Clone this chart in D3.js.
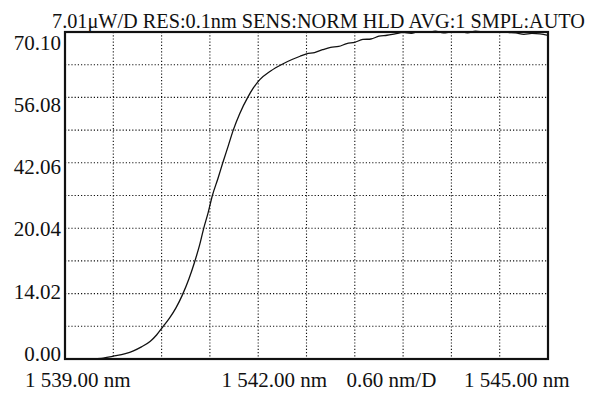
<!DOCTYPE html>
<html>
<head>
<meta charset="UTF-8">
<title>OSA trace</title>
<script src="https://d3js.org/d3.v7.min.js"></script>
<style>
	body { margin: 0; background: #fff; }
	text { font-family: "Liberation Serif", "Times New Roman", serif; fill: #111; }
	.grid line { stroke: #111; stroke-width: 1.1; stroke-dasharray: 1.2,2; }
	.trace { fill: none; stroke: #111; stroke-width: 1.3; }
</style>
</head>
<body>
<script>
// ===== data =====
var titleText = "7.01\u03bcW/D RES:0.1nm SENS:NORM HLD AVG:1 SMPL:AUTO";

var wavelength = [1539.33, 1539.45, 1539.60, 1539.75, 1539.85, 1539.95, 1540.06, 1540.14, 1540.22, 1540.30,
	1540.38, 1540.46, 1540.54, 1540.61, 1540.67, 1540.72, 1540.78, 1540.83, 1540.90, 1540.96,
	1541.03, 1541.09, 1541.17, 1541.27, 1541.34, 1541.42, 1541.55, 1541.71, 1541.82, 1541.92,
	1542.00, 1542.10, 1542.20, 1542.30, 1542.40, 1542.50, 1542.60, 1542.70, 1542.80, 1542.90,
	1543.00, 1543.10, 1543.20, 1543.30, 1543.40, 1543.50, 1543.60, 1543.70, 1543.80, 1543.90,
	1544.00, 1544.10, 1544.20, 1544.30, 1544.40, 1544.50, 1544.60, 1544.70, 1544.80, 1544.90, 1545.00];
var power = [0.00, 0.15, 0.60, 1.15, 1.75, 2.60, 3.80, 5.20, 7.00, 8.80,
	11.00, 13.80, 17.20, 20.80, 24.30, 27.80, 31.50, 35.00, 38.70, 42.06,
	45.80, 49.07, 52.60, 56.08, 58.10, 59.90, 61.70, 63.30, 64.20, 64.90,
	65.40, 65.70, 66.30, 66.80, 67.00, 67.60, 67.90, 68.50, 68.60, 69.20,
	69.40, 69.70, 70.00, 69.80, 70.20, 70.00, 70.30, 69.90, 70.10, 70.20,
	69.90, 70.30, 70.10, 70.00, 70.20, 70.00, 69.90, 69.60, 69.80, 69.70, 69.40];

var yTickValues = [0, 14.02, 28.04, 42.06, 56.08, 70.10];
var yTickLabels = ["0.00", "14.02", "20.04", "42.06", "56.08", "70.10"];
var xLabels = ["1 539.00 nm", "1 542.00 nm", "0.60 nm/D", "1 545.00 nm"];

// ===== layout =====
var W = 602, H = 393;
var mLeft = 65, mRight = 548, mTop = 32, mBottom = 359;

var svg = d3.select("body").append("svg")
	.attr("width", W).attr("height", H);

svg.append("rect").attr("width", W).attr("height", H).attr("fill", "#fff");

var x = d3.scaleLinear().domain([1539, 1545]).range([mLeft, mRight]);
var y = d3.scaleLinear().domain([0, 70.10]).range([mBottom, mTop]);

// ===== grid (10 x 10 divisions) =====
var grid = svg.append("g").attr("class", "grid");
grid.selectAll(".gv").data(d3.range(1, 10)).enter().append("line")
	.attr("x1", function(i) { return x(1539 + i * 0.6); })
	.attr("x2", function(i) { return x(1539 + i * 0.6); })
	.attr("y1", mTop).attr("y2", mBottom);
grid.selectAll(".gh").data(d3.range(1, 10)).enter().append("line")
	.attr("y1", function(i) { return y(i * 7.01); })
	.attr("y2", function(i) { return y(i * 7.01); })
	.attr("x1", mLeft).attr("x2", mRight);

// ===== trace =====
var pts = wavelength.map(function(w, i) { return [w, power[i]]; });
var line = d3.line()
	.x(function(d) { return x(d[0]); })
	.y(function(d) { return y(d[1]); })
	.curve(d3.curveMonotoneX);
svg.append("path").attr("class", "trace").attr("d", line(pts));

// ===== frame =====
svg.append("rect")
	.attr("x", mLeft).attr("y", mTop)
	.attr("width", mRight - mLeft).attr("height", mBottom - mTop)
	.attr("fill", "none").attr("stroke", "#111").attr("stroke-width", 2.2);

// ===== y labels (printed slightly inset from the grid lines) =====
var yLab = d3.scaleLinear().domain([0, 70.10]).range([mBottom - 5.5, mTop + 10.5]);
var yAxis = d3.axisLeft(yLab)
	.tickValues(yTickValues)
	.tickSize(0)
	.tickPadding(4)
	.tickFormat(function(d, i) { return yTickLabels[i]; });
var ya = svg.append("g").attr("transform", "translate(" + mLeft + ",0)").call(yAxis);
ya.select(".domain").remove();
ya.selectAll("text").style("font-family", "'Liberation Serif', serif").style("font-size", "21px").attr("fill", "#111");

// ===== x labels =====
var xLabelPos = [x(1539) - 40, x(1542) - 85, x(1542) + 40, x(1545) - 84];
svg.selectAll(".xl").data(xLabels).enter().append("text")
	.attr("x", function(d, i) { return xLabelPos[i]; })
	.attr("y", 387)
	.style("font-size", "21px")
	.text(function(d) { return d; });

// ===== title =====
svg.append("text")
	.attr("x", 52).attr("y", 28)
	.attr("textLength", 533)
	.attr("lengthAdjust", "spacingAndGlyphs")
	.style("font-size", "21px")
	.text(titleText);
</script>
</body>
</html>
